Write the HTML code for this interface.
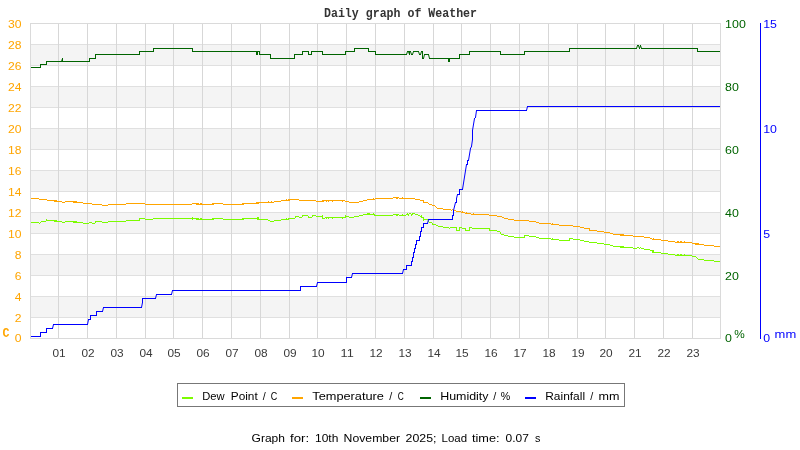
<!DOCTYPE html>
<html lang="en"><head><meta charset="utf-8"><title>Daily graph of Weather</title>
<style>
html,body{margin:0;padding:0;background:#fff;}
body{width:800px;height:450px;overflow:hidden;position:relative;font-family:"Liberation Sans",sans-serif;}
svg text{white-space:pre;}
</style></head><body>
<svg width="800" height="450" viewBox="0 0 800 450" style="position:absolute;left:0;top:0;will-change:transform">
<rect x="0" y="0" width="800" height="450" fill="#fff"/>
<rect x="30" y="44" width="691" height="21" fill="#f4f4f4"/>
<rect x="30" y="86" width="691" height="21" fill="#f4f4f4"/>
<rect x="30" y="128" width="691" height="21" fill="#f4f4f4"/>
<rect x="30" y="170" width="691" height="21" fill="#f4f4f4"/>
<rect x="30" y="212" width="691" height="21" fill="#f4f4f4"/>
<rect x="30" y="254" width="691" height="21" fill="#f4f4f4"/>
<rect x="30" y="296" width="691" height="21" fill="#f4f4f4"/>
<g fill="#e0e0e0" shape-rendering="crispEdges">
<rect x="30" y="44" width="691" height="1"/>
<rect x="30" y="65" width="691" height="1"/>
<rect x="30" y="86" width="691" height="1"/>
<rect x="30" y="107" width="691" height="1"/>
<rect x="30" y="128" width="691" height="1"/>
<rect x="30" y="149" width="691" height="1"/>
<rect x="30" y="170" width="691" height="1"/>
<rect x="30" y="191" width="691" height="1"/>
<rect x="30" y="212" width="691" height="1"/>
<rect x="30" y="233" width="691" height="1"/>
<rect x="30" y="254" width="691" height="1"/>
<rect x="30" y="275" width="691" height="1"/>
<rect x="30" y="296" width="691" height="1"/>
<rect x="30" y="317" width="691" height="1"/>
</g>
<g fill="#d7d7d7" shape-rendering="crispEdges">
<rect x="58" y="23" width="1" height="316"/>
<rect x="87" y="23" width="1" height="316"/>
<rect x="116" y="23" width="1" height="316"/>
<rect x="145" y="23" width="1" height="316"/>
<rect x="173" y="23" width="1" height="316"/>
<rect x="202" y="23" width="1" height="316"/>
<rect x="231" y="23" width="1" height="316"/>
<rect x="260" y="23" width="1" height="316"/>
<rect x="289" y="23" width="1" height="316"/>
<rect x="317" y="23" width="1" height="316"/>
<rect x="346" y="23" width="1" height="316"/>
<rect x="375" y="23" width="1" height="316"/>
<rect x="404" y="23" width="1" height="316"/>
<rect x="433" y="23" width="1" height="316"/>
<rect x="461" y="23" width="1" height="316"/>
<rect x="490" y="23" width="1" height="316"/>
<rect x="519" y="23" width="1" height="316"/>
<rect x="548" y="23" width="1" height="316"/>
<rect x="577" y="23" width="1" height="316"/>
<rect x="605" y="23" width="1" height="316"/>
<rect x="634" y="23" width="1" height="316"/>
<rect x="663" y="23" width="1" height="316"/>
<rect x="692" y="23" width="1" height="316"/>
</g>
<g fill="#dadada" shape-rendering="crispEdges">
<rect x="30" y="23" width="691" height="1"/>
<rect x="30" y="338" width="691" height="1"/>
<rect x="30" y="23" width="1" height="316"/>
<rect x="720" y="23" width="1" height="316"/>
</g>
<rect x="760" y="23" width="1" height="316" fill="#0000ff" shape-rendering="crispEdges"/>
<path d="M31 222h8v1h-8zM39 223h1v1h-1zM40 222h1v1h-1zM41 221h5v1h-5zM46 219h1v2h-1zM47 220h7v1h-7zM54 220h3v2h-3zM57 221h5v1h-5zM62 222h3v1h-3zM65 221h8v1h-8zM73 221h4v2h-4zM77 222h6v1h-6zM83 223h6v1h-6zM89 222h3v1h-3zM92 223h3v1h-3zM95 221h1v2h-1zM96 221h6v1h-6zM102 222h6v1h-6zM108 221h18v1h-18zM126 220h13v1h-13zM139 218h1v3h-1zM140 218h5v1h-5zM145 219h8v1h-8zM153 218h39v1h-39zM192 217h1v3h-1zM193 218h3v1h-3zM196 218h3v2h-3zM199 219h1v1h-1zM200 218h2v2h-2zM202 219h10v1h-10zM212 218h2v2h-2zM214 218h9v1h-9zM223 219h19v1h-19zM242 218h2v2h-2zM244 218h13v1h-13zM257 217h2v3h-2zM259 219h9v1h-9zM268 220h2v1h-2zM270 221h4v1h-4zM274 220h7v1h-7zM281 219h5v1h-5zM286 218h1v2h-1zM287 219h1v1h-1zM288 218h1v2h-1zM289 218h6v1h-6zM295 216h1v2h-1zM296 216h3v1h-3zM299 217h3v1h-3zM302 215h1v2h-1zM303 215h5v1h-5zM308 216h1v2h-1zM309 217h3v1h-3zM312 215h1v2h-1zM313 215h3v1h-3zM316 216h6v1h-6zM322 215h1v4h-1zM323 218h2v1h-2zM325 217h1v1h-1zM326 217h1v2h-1zM327 217h1v1h-1zM328 217h1v2h-1zM329 217h3v1h-3zM332 217h1v2h-1zM333 217h9v1h-9zM342 217h1v2h-1zM343 217h2v1h-2zM345 215h1v3h-1zM346 216h3v1h-3zM349 217h5v1h-5zM354 216h5v1h-5zM359 215h4v1h-4zM363 214h4v1h-4zM367 213h3v2h-3zM370 214h3v1h-3zM373 213h1v2h-1zM374 214h1v2h-1zM375 215h18v1h-18zM393 214h3v1h-3zM396 214h2v2h-2zM398 214h1v1h-1zM399 215h3v1h-3zM402 214h1v2h-1zM403 215h3v1h-3zM406 214h1v1h-1zM407 213h1v2h-1zM408 214h1v2h-1zM409 213h2v1h-2zM411 214h1v2h-1zM412 213h1v2h-1zM413 213h2v1h-2zM415 214h3v1h-3zM418 215h2v1h-2zM420 216h1v1h-1zM421 215h1v3h-1zM422 217h1v1h-1zM423 217h1v4h-1zM424 219h4v1h-4zM428 220h1v2h-1zM429 222h3v1h-3zM432 223h1v2h-1zM433 224h3v1h-3zM436 225h2v1h-2zM438 226h5v1h-5zM443 227h6v1h-6zM449 228h1v1h-1zM450 227h6v1h-6zM456 227h1v4h-1zM457 230h2v1h-2zM459 227h1v4h-1zM460 227h2v1h-2zM462 228h3v1h-3zM465 228h1v3h-1zM466 230h3v1h-3zM469 227h1v4h-1zM470 227h2v1h-2zM472 228h17v1h-17zM489 228h1v3h-1zM490 230h7v1h-7zM497 231h3v1h-3zM500 232h1v2h-1zM501 234h3v1h-3zM504 235h4v1h-4zM508 236h6v1h-6zM514 237h10v1h-10zM524 235h1v3h-1zM525 235h4v1h-4zM529 236h7v1h-7zM536 237h3v1h-3zM539 238h12v1h-12zM551 239h1v1h-1zM552 238h1v2h-1zM553 239h6v1h-6zM559 240h10v1h-10zM569 238h1v3h-1zM570 238h3v1h-3zM573 239h7v1h-7zM580 240h4v1h-4zM584 241h5v1h-5zM589 242h8v1h-8zM597 243h7v1h-7zM604 244h6v1h-6zM610 245h3v1h-3zM613 246h7v1h-7zM620 246h4v2h-4zM624 247h9v1h-9zM633 248h4v1h-4zM637 247h2v1h-2zM639 248h1v1h-1zM640 247h1v1h-1zM641 248h3v1h-3zM644 249h6v1h-6zM650 250h2v1h-2zM652 250h2v3h-2zM654 252h7v1h-7zM661 253h7v1h-7zM668 254h7v1h-7zM675 255h2v1h-2zM677 254h2v2h-2zM679 255h1v1h-1zM680 254h2v2h-2zM682 255h2v1h-2zM684 254h1v2h-1zM685 255h7v1h-7zM692 256h4v1h-4zM696 257h1v1h-1zM697 258h1v1h-1zM698 259h6v1h-6zM704 260h10v1h-10zM714 261h6v1h-6z" fill="#7cfc00" shape-rendering="crispEdges"/>
<path d="M31 198h8v1h-8zM39 199h8v1h-8zM47 200h7v1h-7zM54 200h3v2h-3zM57 201h5v1h-5zM62 202h3v1h-3zM65 201h8v1h-8zM73 201h4v2h-4zM77 202h6v1h-6zM83 203h9v1h-9zM92 204h10v1h-10zM102 205h6v1h-6zM108 204h18v1h-18zM126 203h19v1h-19zM145 204h47v1h-47zM192 203h4v1h-4zM196 203h3v2h-3zM199 204h1v1h-1zM200 203h2v2h-2zM202 204h10v1h-10zM212 203h2v2h-2zM214 203h9v1h-9zM223 204h19v1h-19zM242 203h2v2h-2zM244 203h12v1h-12zM256 202h3v2h-3zM259 202h9v1h-9zM268 201h1v2h-1zM269 202h2v1h-2zM271 201h1v2h-1zM272 202h2v1h-2zM274 201h7v1h-7zM281 200h5v1h-5zM286 199h1v2h-1zM287 200h1v1h-1zM288 199h2v2h-2zM290 199h9v1h-9zM299 200h17v1h-17zM316 201h6v1h-6zM322 200h2v2h-2zM324 200h2v1h-2zM326 200h1v2h-1zM327 200h1v1h-1zM328 200h1v2h-1zM329 200h3v1h-3zM332 200h1v2h-1zM333 200h9v1h-9zM342 200h1v2h-1zM343 200h2v1h-2zM345 201h4v1h-4zM349 202h10v1h-10zM359 201h4v1h-4zM363 200h4v1h-4zM367 199h6v1h-6zM373 198h1v2h-1zM374 199h1v1h-1zM375 198h18v1h-18zM393 197h3v1h-3zM396 197h2v2h-2zM398 197h1v1h-1zM399 198h3v1h-3zM402 197h1v2h-1zM403 198h12v1h-12zM415 199h5v1h-5zM420 200h3v1h-3zM423 200h1v3h-1zM424 202h4v1h-4zM428 203h1v1h-1zM429 204h3v1h-3zM432 205h3v1h-3zM435 206h1v1h-1zM436 207h1v1h-1zM437 208h6v1h-6zM443 209h8v1h-8zM451 210h1v1h-1zM452 209h1v1h-1zM453 210h3v1h-3zM456 211h5v1h-5zM461 212h1v1h-1zM462 211h1v2h-1zM463 212h2v1h-2zM465 213h1v1h-1zM466 212h1v2h-1zM467 213h4v1h-4zM471 214h2v1h-2zM473 213h1v2h-1zM474 214h15v1h-15zM489 215h8v1h-8zM497 216h5v1h-5zM502 217h2v1h-2zM504 218h4v1h-4zM508 219h6v1h-6zM514 220h15v1h-15zM529 221h7v1h-7zM536 222h3v1h-3zM539 223h12v1h-12zM551 224h1v1h-1zM552 223h1v2h-1zM553 224h6v1h-6zM559 225h14v1h-14zM573 226h7v1h-7zM580 227h4v1h-4zM584 228h5v1h-5zM589 228h1v3h-1zM590 230h7v1h-7zM597 231h7v1h-7zM604 232h6v1h-6zM610 233h3v1h-3zM613 234h7v1h-7zM620 234h4v2h-4zM624 235h9v1h-9zM633 236h11v1h-11zM644 237h6v1h-6zM650 238h2v1h-2zM652 239h1v1h-1zM653 238h1v2h-1zM654 239h7v1h-7zM661 240h7v1h-7zM668 241h7v1h-7zM675 242h2v1h-2zM677 241h2v2h-2zM679 242h1v1h-1zM680 241h2v2h-2zM682 242h2v1h-2zM684 241h1v2h-1zM685 242h7v1h-7zM692 243h3v1h-3zM695 243h4v2h-4zM699 244h5v1h-5zM704 245h10v1h-10zM714 246h6v1h-6z" fill="#ffa500" shape-rendering="crispEdges"/>
<path d="M31 67h10v1h-10zM40 64h1v4h-1zM40 64h7v1h-7zM46 61h1v4h-1zM46 61h16v1h-16zM62 58h1v4h-1zM62 61h28v1h-28zM89 58h1v4h-1zM89 58h7v1h-7zM95 54h1v5h-1zM95 54h45v1h-45zM139 51h1v4h-1zM139 51h15v1h-15zM153 48h1v4h-1zM153 48h40v1h-40zM192 48h1v4h-1zM192 51h65v1h-65zM256 51h1v4h-1zM256 54h2v1h-2zM257 51h1v4h-1zM257 51h3v1h-3zM259 51h1v4h-1zM259 54h12v1h-12zM270 54h1v5h-1zM270 58h25v1h-25zM294 54h1v5h-1zM294 54h9v1h-9zM302 51h1v4h-1zM302 51h7v1h-7zM308 51h1v4h-1zM308 54h4v1h-4zM311 51h1v4h-1zM311 51h12v1h-12zM322 51h1v4h-1zM322 54h24v1h-24zM345 51h1v4h-1zM345 51h10v1h-10zM354 48h1v4h-1zM354 48h15v1h-15zM368 48h1v4h-1zM368 51h8v1h-8zM375 51h1v4h-1zM375 54h32v1h-32zM407 51h2v1h-2zM409 51h1v4h-1zM409 51h2v1h-2zM411 54h2v1h-2zM413 51h6v1h-6zM419 54h2v1h-2zM421 51h2v1h-2zM422 51h1v8h-1zM422 58h2v1h-2zM424 54h5v1h-5zM429 58h20v1h-20zM448 58h1v4h-1zM448 61h2v1h-2zM449 58h1v4h-1zM449 58h11v1h-11zM459 54h1v5h-1zM459 54h11v1h-11zM469 51h1v4h-1zM469 51h32v1h-32zM500 51h1v4h-1zM500 54h25v1h-25zM524 51h1v4h-1zM524 51h46v1h-46zM569 48h1v4h-1zM569 48h68v1h-68zM637 45h2v1h-2zM641 48h57v1h-57zM697 48h1v4h-1zM697 51h23v1h-23z" fill="#006400" shape-rendering="crispEdges"/>
<path d="M61.5 61.5L62.5 58.5M406.5 54.5L407.5 51.5M408.5 51.5L409.5 54.5M410.5 51.5L411.5 54.5M412.5 54.5L413.5 51.5M418.5 51.5L419.5 54.5M420.5 54.5L421.5 51.5M423.5 58.5L424.5 54.5M428.5 54.5L429.5 58.5M636.5 48.5L637.5 45.5M638.5 45.5L639.5 48.5M639.5 48.5L640.5 45.5M640.5 45.5L641.5 48.5" fill="none" stroke="#006400" stroke-width="1" stroke-linecap="square"/>
<path d="M31 336h10v1h-10zM40 332h1v5h-1zM40 332h7v1h-7zM46 328h1v5h-1zM46 328h7v1h-7zM53 324h35v1h-35zM88 319h3v1h-3zM90 315h1v5h-1zM90 315h7v1h-7zM96 311h1v5h-1zM96 311h7v1h-7zM103 307h39v1h-39zM142 298h1v5h-1zM142 298h14v1h-14zM156 294h16v1h-16zM172 290h129v1h-129zM300 286h1v5h-1zM300 286h17v1h-17zM317 282h30v1h-30zM346 277h1v6h-1zM346 277h6v1h-6zM352 273h51v1h-51zM403 269h4v1h-4zM406 265h1v5h-1zM406 265h6v1h-6zM411 261h1v5h-1zM411 261h2v1h-2zM412 257h1v5h-1zM412 257h2v1h-2zM413 252h1v6h-1zM413 252h2v1h-2zM414 248h1v5h-1zM414 248h2v1h-2zM415 244h1v5h-1zM415 244h2v1h-2zM416 240h1v5h-1zM416 240h4v1h-4zM419 236h1v5h-1zM419 236h2v1h-2zM420 231h1v6h-1zM420 231h2v1h-2zM421 227h1v5h-1zM421 227h3v1h-3zM423 223h1v5h-1zM423 223h5v1h-5zM428 219h25v1h-25zM452 215h1v5h-1zM452 215h2v1h-2zM453 210h1v6h-1zM455 202h2v1h-2zM456 198h1v5h-1zM457 194h3v1h-3zM459 189h1v6h-1zM459 189h4v1h-4zM466 164h2v1h-2zM467 160h1v5h-1zM467 160h2v1h-2zM472 130h1v10h-1zM476 110h51v1h-51zM527 106h193v1h-193z" fill="#0000ff" shape-rendering="crispEdges"/>
<path d="M52.5 328.5L53.5 324.5M87.5 324.5L88.5 319.5M102.5 311.5L103.5 307.5M141.5 307.5L142.5 302.5M155.5 298.5L156.5 294.5M171.5 294.5L172.5 290.5M316.5 286.5L317.5 282.5M351.5 277.5L352.5 273.5M402.5 273.5L403.5 269.5M427.5 223.5L428.5 219.5M453.5 210.5L454.5 206.5M454.5 206.5L455.5 202.5M456.5 198.5L457.5 194.5M462.5 189.5L466.5 164.5M468.5 160.5L470.5 148.5M470.5 148.5L471.5 146.5M471.5 146.5L472.5 139.5M472.5 130.5L474.5 118.5M474.5 118.5L475.5 117.5M475.5 117.5L476.5 110.5M526.5 110.5L527.5 106.5" fill="none" stroke="#0000ff" stroke-width="1" stroke-linecap="square"/>
<text x="21.50" y="27.50" font-family="'Liberation Sans', sans-serif" font-size="11.8" font-weight="normal" fill="#ffa500" text-anchor="end" textLength="13.50" lengthAdjust="spacingAndGlyphs">30</text>
<text x="21.50" y="48.50" font-family="'Liberation Sans', sans-serif" font-size="11.8" font-weight="normal" fill="#ffa500" text-anchor="end" textLength="13.50" lengthAdjust="spacingAndGlyphs">28</text>
<text x="21.50" y="69.50" font-family="'Liberation Sans', sans-serif" font-size="11.8" font-weight="normal" fill="#ffa500" text-anchor="end" textLength="13.50" lengthAdjust="spacingAndGlyphs">26</text>
<text x="21.50" y="90.50" font-family="'Liberation Sans', sans-serif" font-size="11.8" font-weight="normal" fill="#ffa500" text-anchor="end" textLength="13.50" lengthAdjust="spacingAndGlyphs">24</text>
<text x="21.50" y="111.50" font-family="'Liberation Sans', sans-serif" font-size="11.8" font-weight="normal" fill="#ffa500" text-anchor="end" textLength="13.50" lengthAdjust="spacingAndGlyphs">22</text>
<text x="21.50" y="132.50" font-family="'Liberation Sans', sans-serif" font-size="11.8" font-weight="normal" fill="#ffa500" text-anchor="end" textLength="13.50" lengthAdjust="spacingAndGlyphs">20</text>
<text x="21.50" y="153.50" font-family="'Liberation Sans', sans-serif" font-size="11.8" font-weight="normal" fill="#ffa500" text-anchor="end" textLength="13.50" lengthAdjust="spacingAndGlyphs">18</text>
<text x="21.50" y="174.50" font-family="'Liberation Sans', sans-serif" font-size="11.8" font-weight="normal" fill="#ffa500" text-anchor="end" textLength="13.50" lengthAdjust="spacingAndGlyphs">16</text>
<text x="21.50" y="195.50" font-family="'Liberation Sans', sans-serif" font-size="11.8" font-weight="normal" fill="#ffa500" text-anchor="end" textLength="13.50" lengthAdjust="spacingAndGlyphs">14</text>
<text x="21.50" y="216.50" font-family="'Liberation Sans', sans-serif" font-size="11.8" font-weight="normal" fill="#ffa500" text-anchor="end" textLength="13.50" lengthAdjust="spacingAndGlyphs">12</text>
<text x="21.50" y="237.50" font-family="'Liberation Sans', sans-serif" font-size="11.8" font-weight="normal" fill="#ffa500" text-anchor="end" textLength="13.50" lengthAdjust="spacingAndGlyphs">10</text>
<text x="21.50" y="258.50" font-family="'Liberation Sans', sans-serif" font-size="11.8" font-weight="normal" fill="#ffa500" text-anchor="end" textLength="6.75" lengthAdjust="spacingAndGlyphs">8</text>
<text x="21.50" y="279.50" font-family="'Liberation Sans', sans-serif" font-size="11.8" font-weight="normal" fill="#ffa500" text-anchor="end" textLength="6.75" lengthAdjust="spacingAndGlyphs">6</text>
<text x="21.50" y="300.50" font-family="'Liberation Sans', sans-serif" font-size="11.8" font-weight="normal" fill="#ffa500" text-anchor="end" textLength="6.75" lengthAdjust="spacingAndGlyphs">4</text>
<text x="21.50" y="321.50" font-family="'Liberation Sans', sans-serif" font-size="11.8" font-weight="normal" fill="#ffa500" text-anchor="end" textLength="6.75" lengthAdjust="spacingAndGlyphs">2</text>
<text x="21.50" y="341.80" font-family="'Liberation Sans', sans-serif" font-size="11.8" font-weight="normal" fill="#ffa500" text-anchor="end" textLength="6.75" lengthAdjust="spacingAndGlyphs">0</text>
<text x="2.40" y="336.90" font-family="'Liberation Mono', sans-serif" font-size="12.7" font-weight="bold" fill="#ffa500" text-anchor="start" textLength="7.00" lengthAdjust="spacingAndGlyphs">C</text>
<text x="725.10" y="27.50" font-family="'Liberation Sans', sans-serif" font-size="11.8" font-weight="normal" fill="#006400" text-anchor="start" textLength="20.70" lengthAdjust="spacingAndGlyphs">100</text>
<text x="725.10" y="90.50" font-family="'Liberation Sans', sans-serif" font-size="11.8" font-weight="normal" fill="#006400" text-anchor="start" textLength="13.80" lengthAdjust="spacingAndGlyphs">80</text>
<text x="725.10" y="153.50" font-family="'Liberation Sans', sans-serif" font-size="11.8" font-weight="normal" fill="#006400" text-anchor="start" textLength="13.80" lengthAdjust="spacingAndGlyphs">60</text>
<text x="725.10" y="216.50" font-family="'Liberation Sans', sans-serif" font-size="11.8" font-weight="normal" fill="#006400" text-anchor="start" textLength="13.80" lengthAdjust="spacingAndGlyphs">40</text>
<text x="725.10" y="279.50" font-family="'Liberation Sans', sans-serif" font-size="11.8" font-weight="normal" fill="#006400" text-anchor="start" textLength="13.80" lengthAdjust="spacingAndGlyphs">20</text>
<text x="725.10" y="341.80" font-family="'Liberation Sans', sans-serif" font-size="11.8" font-weight="normal" fill="#006400" text-anchor="start" textLength="6.90" lengthAdjust="spacingAndGlyphs">0</text>
<text x="734.20" y="337.80" font-family="'Liberation Sans', sans-serif" font-size="11.8" font-weight="normal" fill="#006400" text-anchor="start" textLength="10.50" lengthAdjust="spacingAndGlyphs">%</text>
<text x="763.20" y="27.50" font-family="'Liberation Sans', sans-serif" font-size="11.8" font-weight="normal" fill="#0000ff" text-anchor="start" textLength="13.70" lengthAdjust="spacingAndGlyphs">15</text>
<text x="763.20" y="132.50" font-family="'Liberation Sans', sans-serif" font-size="11.8" font-weight="normal" fill="#0000ff" text-anchor="start" textLength="13.70" lengthAdjust="spacingAndGlyphs">10</text>
<text x="763.20" y="237.50" font-family="'Liberation Sans', sans-serif" font-size="11.8" font-weight="normal" fill="#0000ff" text-anchor="start" textLength="6.85" lengthAdjust="spacingAndGlyphs">5</text>
<text x="763.20" y="341.80" font-family="'Liberation Sans', sans-serif" font-size="11.8" font-weight="normal" fill="#0000ff" text-anchor="start" textLength="6.85" lengthAdjust="spacingAndGlyphs">0</text>
<text x="774.60" y="337.80" font-family="'Liberation Sans', sans-serif" font-size="11.8" font-weight="normal" fill="#0000ff" text-anchor="start" textLength="21.60" lengthAdjust="spacingAndGlyphs">mm</text>
<text x="59.10" y="357.20" font-family="'Liberation Sans', sans-serif" font-size="11.8" font-weight="normal" fill="#3a3a3a" text-anchor="middle" textLength="13.20" lengthAdjust="spacingAndGlyphs">01</text>
<text x="88.10" y="357.20" font-family="'Liberation Sans', sans-serif" font-size="11.8" font-weight="normal" fill="#3a3a3a" text-anchor="middle" textLength="13.20" lengthAdjust="spacingAndGlyphs">02</text>
<text x="117.10" y="357.20" font-family="'Liberation Sans', sans-serif" font-size="11.8" font-weight="normal" fill="#3a3a3a" text-anchor="middle" textLength="13.20" lengthAdjust="spacingAndGlyphs">03</text>
<text x="146.10" y="357.20" font-family="'Liberation Sans', sans-serif" font-size="11.8" font-weight="normal" fill="#3a3a3a" text-anchor="middle" textLength="13.20" lengthAdjust="spacingAndGlyphs">04</text>
<text x="174.10" y="357.20" font-family="'Liberation Sans', sans-serif" font-size="11.8" font-weight="normal" fill="#3a3a3a" text-anchor="middle" textLength="13.20" lengthAdjust="spacingAndGlyphs">05</text>
<text x="203.10" y="357.20" font-family="'Liberation Sans', sans-serif" font-size="11.8" font-weight="normal" fill="#3a3a3a" text-anchor="middle" textLength="13.20" lengthAdjust="spacingAndGlyphs">06</text>
<text x="232.10" y="357.20" font-family="'Liberation Sans', sans-serif" font-size="11.8" font-weight="normal" fill="#3a3a3a" text-anchor="middle" textLength="13.20" lengthAdjust="spacingAndGlyphs">07</text>
<text x="261.10" y="357.20" font-family="'Liberation Sans', sans-serif" font-size="11.8" font-weight="normal" fill="#3a3a3a" text-anchor="middle" textLength="13.20" lengthAdjust="spacingAndGlyphs">08</text>
<text x="290.10" y="357.20" font-family="'Liberation Sans', sans-serif" font-size="11.8" font-weight="normal" fill="#3a3a3a" text-anchor="middle" textLength="13.20" lengthAdjust="spacingAndGlyphs">09</text>
<text x="318.10" y="357.20" font-family="'Liberation Sans', sans-serif" font-size="11.8" font-weight="normal" fill="#3a3a3a" text-anchor="middle" textLength="13.20" lengthAdjust="spacingAndGlyphs">10</text>
<text x="347.10" y="357.20" font-family="'Liberation Sans', sans-serif" font-size="11.8" font-weight="normal" fill="#3a3a3a" text-anchor="middle" textLength="13.20" lengthAdjust="spacingAndGlyphs">11</text>
<text x="376.10" y="357.20" font-family="'Liberation Sans', sans-serif" font-size="11.8" font-weight="normal" fill="#3a3a3a" text-anchor="middle" textLength="13.20" lengthAdjust="spacingAndGlyphs">12</text>
<text x="405.10" y="357.20" font-family="'Liberation Sans', sans-serif" font-size="11.8" font-weight="normal" fill="#3a3a3a" text-anchor="middle" textLength="13.20" lengthAdjust="spacingAndGlyphs">13</text>
<text x="434.10" y="357.20" font-family="'Liberation Sans', sans-serif" font-size="11.8" font-weight="normal" fill="#3a3a3a" text-anchor="middle" textLength="13.20" lengthAdjust="spacingAndGlyphs">14</text>
<text x="462.10" y="357.20" font-family="'Liberation Sans', sans-serif" font-size="11.8" font-weight="normal" fill="#3a3a3a" text-anchor="middle" textLength="13.20" lengthAdjust="spacingAndGlyphs">15</text>
<text x="491.10" y="357.20" font-family="'Liberation Sans', sans-serif" font-size="11.8" font-weight="normal" fill="#3a3a3a" text-anchor="middle" textLength="13.20" lengthAdjust="spacingAndGlyphs">16</text>
<text x="520.10" y="357.20" font-family="'Liberation Sans', sans-serif" font-size="11.8" font-weight="normal" fill="#3a3a3a" text-anchor="middle" textLength="13.20" lengthAdjust="spacingAndGlyphs">17</text>
<text x="549.10" y="357.20" font-family="'Liberation Sans', sans-serif" font-size="11.8" font-weight="normal" fill="#3a3a3a" text-anchor="middle" textLength="13.20" lengthAdjust="spacingAndGlyphs">18</text>
<text x="578.10" y="357.20" font-family="'Liberation Sans', sans-serif" font-size="11.8" font-weight="normal" fill="#3a3a3a" text-anchor="middle" textLength="13.20" lengthAdjust="spacingAndGlyphs">19</text>
<text x="606.10" y="357.20" font-family="'Liberation Sans', sans-serif" font-size="11.8" font-weight="normal" fill="#3a3a3a" text-anchor="middle" textLength="13.20" lengthAdjust="spacingAndGlyphs">20</text>
<text x="635.10" y="357.20" font-family="'Liberation Sans', sans-serif" font-size="11.8" font-weight="normal" fill="#3a3a3a" text-anchor="middle" textLength="13.20" lengthAdjust="spacingAndGlyphs">21</text>
<text x="664.10" y="357.20" font-family="'Liberation Sans', sans-serif" font-size="11.8" font-weight="normal" fill="#3a3a3a" text-anchor="middle" textLength="13.20" lengthAdjust="spacingAndGlyphs">22</text>
<text x="693.10" y="357.20" font-family="'Liberation Sans', sans-serif" font-size="11.8" font-weight="normal" fill="#3a3a3a" text-anchor="middle" textLength="13.20" lengthAdjust="spacingAndGlyphs">23</text>
<text x="400.50" y="16.80" font-family="'Liberation Mono', sans-serif" font-size="12.7" font-weight="bold" fill="#333" text-anchor="middle" textLength="153.00" lengthAdjust="spacingAndGlyphs">Daily graph of Weather</text>
<rect x="177.5" y="383.5" width="447" height="23" fill="#fff" stroke="#777" stroke-width="1"/>
<rect x="182" y="397" width="11" height="2" fill="#7cfc00" shape-rendering="crispEdges"/>
<text x="202.25" y="399.90" font-family="'Liberation Sans', sans-serif" font-size="11.8" font-weight="normal" fill="#000" text-anchor="start" textLength="22.39" lengthAdjust="spacingAndGlyphs">Dew</text>
<text x="230.75" y="399.90" font-family="'Liberation Sans', sans-serif" font-size="11.8" font-weight="normal" fill="#000" text-anchor="start" textLength="26.99" lengthAdjust="spacingAndGlyphs">Point</text>
<text x="262.70" y="399.90" font-family="'Liberation Sans', sans-serif" font-size="11.8" font-weight="normal" fill="#000" text-anchor="start" textLength="2.98" lengthAdjust="spacingAndGlyphs">/</text>
<text x="270.80" y="399.90" font-family="'Liberation Sans', sans-serif" font-size="11.8" font-weight="normal" fill="#000" text-anchor="start" textLength="6.47" lengthAdjust="spacingAndGlyphs">C</text>
<rect x="292" y="397" width="11" height="2" fill="#ffa500" shape-rendering="crispEdges"/>
<text x="312.25" y="399.90" font-family="'Liberation Sans', sans-serif" font-size="11.8" font-weight="normal" fill="#000" text-anchor="start" textLength="71.74" lengthAdjust="spacingAndGlyphs">Temperature</text>
<text x="389.20" y="399.90" font-family="'Liberation Sans', sans-serif" font-size="11.8" font-weight="normal" fill="#000" text-anchor="start" textLength="2.98" lengthAdjust="spacingAndGlyphs">/</text>
<text x="397.75" y="399.90" font-family="'Liberation Sans', sans-serif" font-size="11.8" font-weight="normal" fill="#000" text-anchor="start" textLength="6.02" lengthAdjust="spacingAndGlyphs">C</text>
<rect x="420" y="397" width="11" height="2" fill="#006400" shape-rendering="crispEdges"/>
<text x="440.20" y="399.90" font-family="'Liberation Sans', sans-serif" font-size="11.8" font-weight="normal" fill="#000" text-anchor="start" textLength="48.29" lengthAdjust="spacingAndGlyphs">Humidity</text>
<text x="493.30" y="399.90" font-family="'Liberation Sans', sans-serif" font-size="11.8" font-weight="normal" fill="#000" text-anchor="start" textLength="2.98" lengthAdjust="spacingAndGlyphs">/</text>
<text x="500.80" y="399.90" font-family="'Liberation Sans', sans-serif" font-size="11.8" font-weight="normal" fill="#000" text-anchor="start" textLength="9.44" lengthAdjust="spacingAndGlyphs">%</text>
<rect x="525" y="397" width="11" height="2" fill="#0000ff" shape-rendering="crispEdges"/>
<text x="545.25" y="399.90" font-family="'Liberation Sans', sans-serif" font-size="11.8" font-weight="normal" fill="#000" text-anchor="start" textLength="39.81" lengthAdjust="spacingAndGlyphs">Rainfall</text>
<text x="590.25" y="399.90" font-family="'Liberation Sans', sans-serif" font-size="11.8" font-weight="normal" fill="#000" text-anchor="start" textLength="2.98" lengthAdjust="spacingAndGlyphs">/</text>
<text x="598.50" y="399.90" font-family="'Liberation Sans', sans-serif" font-size="11.8" font-weight="normal" fill="#000" text-anchor="start" textLength="20.95" lengthAdjust="spacingAndGlyphs">mm</text>
<text x="251.60" y="442.00" font-family="'Liberation Sans', sans-serif" font-size="11.8" font-weight="normal" fill="#000" text-anchor="start" textLength="33.39" lengthAdjust="spacingAndGlyphs">Graph</text>
<text x="290.00" y="442.00" font-family="'Liberation Sans', sans-serif" font-size="11.8" font-weight="normal" fill="#000" text-anchor="start" textLength="19.06" lengthAdjust="spacingAndGlyphs">for:</text>
<text x="315.00" y="442.00" font-family="'Liberation Sans', sans-serif" font-size="11.8" font-weight="normal" fill="#000" text-anchor="start" textLength="23.35" lengthAdjust="spacingAndGlyphs">10th</text>
<text x="343.60" y="442.00" font-family="'Liberation Sans', sans-serif" font-size="11.8" font-weight="normal" fill="#000" text-anchor="start" textLength="56.43" lengthAdjust="spacingAndGlyphs">November</text>
<text x="405.60" y="442.00" font-family="'Liberation Sans', sans-serif" font-size="11.8" font-weight="normal" fill="#000" text-anchor="start" textLength="30.83" lengthAdjust="spacingAndGlyphs">2025;</text>
<text x="441.60" y="442.00" font-family="'Liberation Sans', sans-serif" font-size="11.8" font-weight="normal" fill="#000" text-anchor="start" textLength="25.45" lengthAdjust="spacingAndGlyphs">Load</text>
<text x="472.00" y="442.00" font-family="'Liberation Sans', sans-serif" font-size="11.8" font-weight="normal" fill="#000" text-anchor="start" textLength="27.56" lengthAdjust="spacingAndGlyphs">time:</text>
<text x="505.60" y="442.00" font-family="'Liberation Sans', sans-serif" font-size="11.8" font-weight="normal" fill="#000" text-anchor="start" textLength="23.35" lengthAdjust="spacingAndGlyphs">0.07</text>
<text x="535.00" y="442.00" font-family="'Liberation Sans', sans-serif" font-size="11.8" font-weight="normal" fill="#000" text-anchor="start" textLength="5.40" lengthAdjust="spacingAndGlyphs">s</text>
</svg>
</body></html>
